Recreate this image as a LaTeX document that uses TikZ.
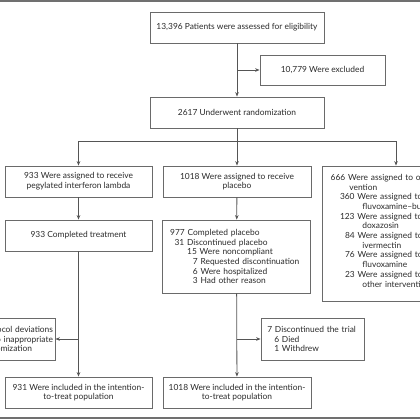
\documentclass[tikz,border=0pt]{standalone}
\usepackage{fontspec}
\setmainfont{Lato}
\usetikzlibrary{arrows.meta}
\definecolor{boxgray}{HTML}{6A6A6A}
\definecolor{linegray}{HTML}{555555}
\definecolor{txt}{HTML}{2A2A2A}
\definecolor{rule}{HTML}{707070}
\newcommand{\fs}{\fontsize{8.4}{9.7}\selectfont}
\tikzset{
  box/.style={draw=boxgray, line width=0.8pt, inner sep=0pt, text=txt, font=\fs, align=center},
  lbox/.style={box, align=left},
  rbox/.style={box, align=right},
  conn/.style={draw=linegray, line width=0.8pt},
  arr/.style={conn, -{Stealth[length=4.5pt,width=3.6pt]}}
}
\begin{document}
\begin{tikzpicture}[x=1pt,y=-1pt]
\useasboundingbox (0,0) rectangle (420,420);
\draw[rule, line width=1.6pt] (0,0.8) -- (420,0.8);
\draw[rule, line width=1.4pt] (0,417.8) -- (420,417.8);

\node[box, minimum width=174pt, minimum height=31pt] (elig) at (237,27.5) {13,396 Patients were assessed for eligibility};
\node[box, minimum width=125pt, minimum height=30pt] (excl) at (322.5,70) {10,779 Were excluded};
\node[box, minimum width=174pt, minimum height=31pt] (rand) at (237,112.5) {2617 Underwent randomization};
\coordinate (split) at (237,141);

\node[box, minimum width=147pt, minimum height=31pt] (lamA) at (78.5,181.5) {933 Were assigned to receive\\pegylated interferon lambda};
\node[box, minimum width=148pt, minimum height=31pt] (plaA) at (237,181.5) {1018 Were assigned to receive\\placebo};
\node[lbox, text width=130.6pt, inner xsep=8.7pt, minimum height=135pt] (oth) at (396,233.5) {%
666 Were assigned to other inter-\\
\hspace*{18.7pt}vention\\
\hspace*{9.3pt}360 Were assigned to\\
\hspace*{31.7pt}fluvoxamine–bupropion\\
\hspace*{9.3pt}123 Were assigned to\\
\hspace*{31.7pt}doxazosin\\
\hspace*{14.3pt}84 Were assigned to\\
\hspace*{31.7pt}ivermectin\\
\hspace*{14.3pt}76 Were assigned to\\
\hspace*{31.7pt}fluvoxamine\\
\hspace*{14.3pt}23 Were assigned to\\
\hspace*{31.7pt}other interventions\\[-4pt]\mbox{}};

\node[box, minimum width=147pt, minimum height=31pt] (lamB) at (78.5,235.5) {933 Completed treatment};
\node[lbox, text width=132.6pt, inner xsep=7.7pt, minimum height=73pt] (plaB) at (236.5,256.5) {%
977 Completed placebo\\
\hspace*{4.3pt}31 Discontinued placebo\\
\hspace*{17pt}15 Were noncompliant\\
\hspace*{22.7pt}7 Requested discontinuation\\
\hspace*{22.7pt}6 Were hospitalized\\
\hspace*{22.7pt}3 Had other reason};

\node[rbox, text width=112pt, inner xsep=2pt, minimum height=42pt] (dev) at (-3,339) {%
2 Had protocol deviations\\
due to inappropriate\hspace*{6pt}\\
randomization\hspace*{21pt}};
\node[lbox, text width=90.4pt, inner xsep=6.3pt, minimum height=42pt] (disc) at (312.5,339) {%
7 Discontinued the trial\\
\hspace*{7pt}6 Died\\
\hspace*{7pt}1 Withdrew};

\node[box, minimum width=147pt, minimum height=31pt] (lamC) at (78.5,392.5) {931 Were included in the intention-\\to-treat population};
\node[box, minimum width=148pt, minimum height=31pt] (plaC) at (237,392.5) {1018 Were included in the intention-\\to-treat population};

\draw[arr] (elig) -- (rand);
\draw[arr] (elig.south |- excl.west) -- (excl.west);
\draw[conn] (rand) -- (split);
\draw[arr] (split) -| (lamA.north);
\draw[arr] (split) -- (plaA);
\draw[arr] (split) -| (oth.north);
\draw[arr] (lamA) -- (lamB);
\draw[arr] (plaA) -- (plaB);
\draw[arr] (lamB) -- (lamC);
\draw[arr] (plaB) -- (plaC);
\draw[arr] (lamB.south |- dev.east) -- (dev.east);
\draw[arr] (plaB.south |- disc.west) -- (disc.west);
\end{tikzpicture}
\end{document}
